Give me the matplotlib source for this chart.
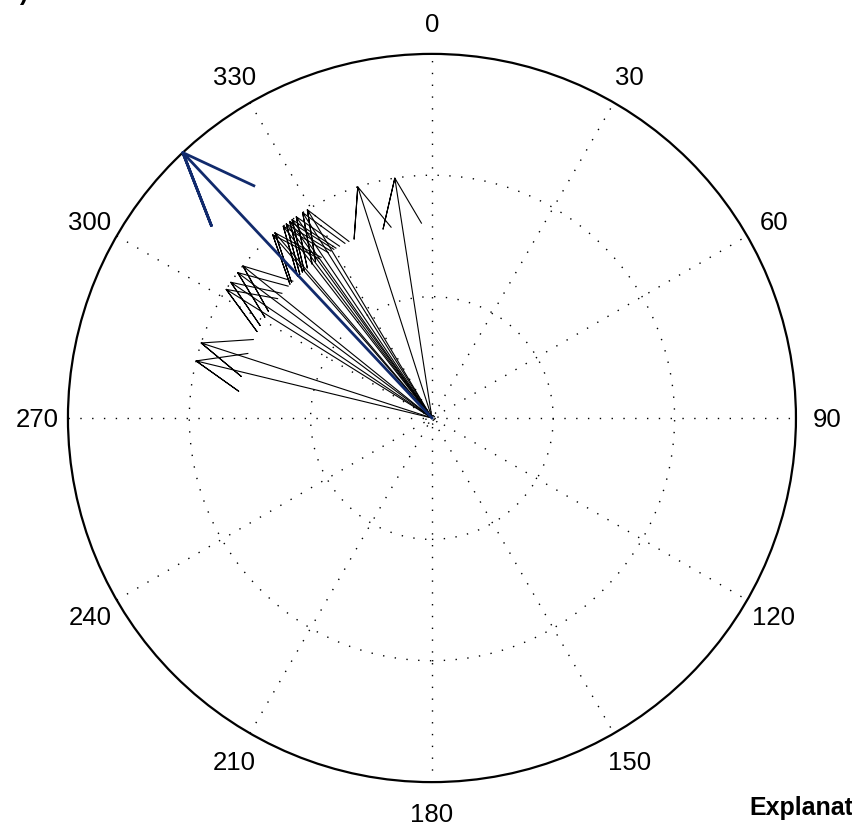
import math
import matplotlib
matplotlib.use("Agg")
import matplotlib.pyplot as plt
from matplotlib.patches import Circle

plt.rcParams['font.family'] = ['Liberation Sans', 'DejaVu Sans']

# individual directions (degrees, clockwise from north) and their lengths
dirs = [351.2, 342.2, 329.1, 327.8, 326.0, 324.8, 324.1, 323.1, 322.2,
        319.7, 319.0, 308.8, 306.8, 304.0, 302.0, 288.0, 283.6]
lens = [1.0, 1.0, 1.0, 1.0, 1.0, 1.0, 1.0, 1.0, 1.0,
        1.0, 1.0, 1.0, 1.0, 1.0, 1.0, 1.0, 1.0]

# mean vector (blue)
mean_dir = 316.8
mean_len = 1.5

# grid
rings = [0.025, 0.5, 1.0]
r_max = 1.5
spokes = [0, 30, 60, 90, 120, 150]
labels = [0, 30, 60, 90, 120, 150, 180, 210, 240, 270, 300, 330]


def to_xy(deg, r):
    a = math.radians(deg)
    return r * math.sin(a), r * math.cos(a)


def compass_arrow(ax, deg, r, **kw):
    # matlab compass style: 0 -> tip -> barb -> tip -> barb
    x, y = to_xy(deg, r)
    z = complex(x, y)
    pts = [0, z, z * (0.8 + 0.08j), z, z * (0.8 - 0.08j)]
    ax.plot([p.real for p in pts], [p.imag for p in pts], **kw)


fig = plt.figure(figsize=(8.52, 8.36), dpi=100)
ax = fig.add_axes([0, 0, 1, 1])
ax.set_xlim(-1.780, 1.731)
ax.set_ylim(-1.722, 1.722)
ax.axis('off')

dot = (0, (1, 7.5))
for r in rings:
    ls = (0, (1, 2.5)) if r < 0.1 else dot
    ax.add_patch(Circle((0, 0), r, fill=False, ec='black', lw=1, ls=ls))

for d in spokes:
    x, y = to_xy(d, r_max)
    ax.plot([-x, x], [-y, y], color='black', lw=1, ls=dot)

ax.add_patch(Circle((0, 0), r_max, fill=False, ec='black', lw=1.6))

for d in labels:
    x, y = to_xy(d, r_max * 1.085)
    ax.text(x, y - 0.01, str(d), ha='center', va='center', fontsize=18.5)

for d, r in zip(dirs, lens):
    compass_arrow(ax, d, r, color='black', lw=0.8)

compass_arrow(ax, mean_dir, mean_len, color='#112a6c', lw=2)

fig.text(749 / 852, 1 - 815 / 836, 'Explanatory', fontsize=18,
         fontweight='bold', ha='left', va='baseline')
fig.text(28 / 852, 1 - 0 / 836, 'a)', fontsize=18, fontweight='bold',
         ha='right', va='baseline')

fig.savefig('out.png', dpi=100)
